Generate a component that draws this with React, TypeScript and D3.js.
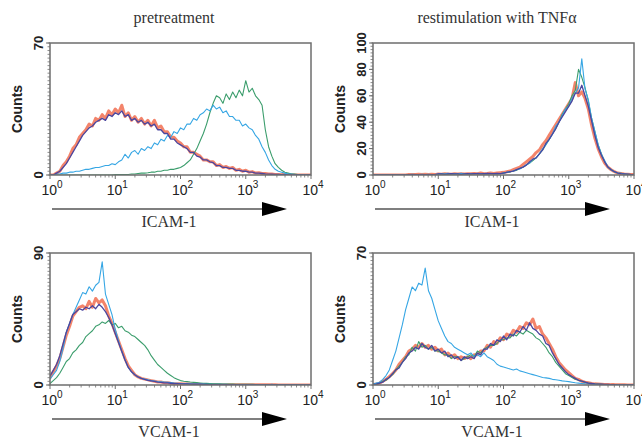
import React, { useRef, useEffect } from "react";
import * as d3 from "d3";

// 81 channels, log10 positions 0 .. 4 in steps of 0.05
const decades = d3.range(81).map(i => i * 0.05);

// ICAM-1, pretreatment
const icamPreRed = [
  0, 0, 1, 2, 5, 7, 10, 14, 16, 20,
  22, 24, 27, 26, 30, 29, 32, 30, 34, 32,
  35, 33, 37, 31, 33, 29, 31, 28, 30, 27,
  29, 26, 29, 25, 26, 23, 23, 20, 20, 18,
  17, 15, 15, 12, 12, 11, 10, 8, 8, 7,
  7, 5, 5.5, 4, 4.5, 3.5, 4, 2.5, 3, 2,
  2.5, 1.5, 1.8, 1, 1.2, 0.8, 0.8, 0.5, 0.5, 0.3,
  0.3, 0.2, 0.2, 0.1, 0.1, 0, 0, 0, 0, 0,
  0];
const icamPrePurple = [
  0, 0, 1, 2, 4, 6, 9, 12, 15, 18,
  21, 23, 25, 26, 28, 29, 30, 29, 32, 31,
  33, 32, 34, 31, 32, 29, 30, 28, 29, 27,
  28, 26, 27, 24, 24, 22, 22, 19, 19, 17,
  16, 15, 14, 12, 12, 10, 9.5, 8, 8, 7,
  6.5, 5, 5, 4, 4, 3.5, 3.5, 2.5, 2.5, 2,
  2, 1.5, 1.5, 1, 1, 0.8, 0.6, 0.5, 0.4, 0.3,
  0.3, 0.2, 0.2, 0.1, 0.1, 0, 0, 0, 0, 0,
  0];
const icamPreCyan = [
  0, 0, 0.5, 0.5, 1, 1, 1.5, 1.5, 2, 2,
  2.5, 3, 3, 3.5, 4, 4, 4.5, 5, 5, 6,
  5.5, 7, 8, 11, 9, 12, 13, 11, 14, 13,
  15, 14, 17, 16, 19, 18, 21, 20, 23, 22,
  25, 24, 27, 27, 30, 29, 32, 33, 35, 34,
  37, 35, 36, 33, 34, 31, 31, 29, 29, 26,
  27, 25, 24, 21, 19, 15, 12, 8, 5, 3,
  2, 1.5, 1, 0.5, 0.5, 0.3, 0, 0, 0, 0,
  0];
const icamPreGreen = [
  0, 0, 0, 0, 0, 0, 0, 0, 0, 0,
  0, 0, 0, 0, 0, 0, 0, 0, 0, 0,
  0.3, 0.3, 0.3, 0.3, 0.3, 0.5, 0.5, 0.8, 1, 1,
  1.2, 1.5, 1.5, 2, 2, 2.5, 2.5, 3, 3, 3.5,
  4, 5, 6.5, 8, 11, 14, 18, 22, 27, 33,
  38, 42, 41, 38, 43, 40, 44, 41, 45, 42,
  50, 44, 46, 42, 40, 37, 24, 15, 10, 6,
  4, 2.5, 1.5, 1, 0.5, 0.5, 0.3, 0.2, 0, 0,
  0];

// ICAM-1, restimulation with TNF-alpha
const icamTnfRed = [
  0, 0, 0, 0, 0, 0, 0, 0, 0, 0,
  0, 0.3, 0.3, 0.3, 0.5, 0.3, 0.5, 0.3, 0.5, 0.3,
  0.8, 0.5, 1, 0.8, 0.5, 1, 0.8, 1, 0.8, 1,
  1, 1.2, 1, 1.5, 1, 1.2, 1.5, 1.2, 1.5, 1.8,
  2, 2.5, 3, 4, 5, 6, 8, 10, 12, 14,
  17, 19, 23, 26, 30, 34, 38, 42, 46, 50,
  54, 58, 70, 60, 63, 58, 50, 38, 28, 20,
  14, 9, 6, 4, 2.5, 1.5, 1.2, 0.8, 0.6, 0.4,
  0.3];
const icamTnfPurple = [
  0, 0, 0, 0, 0, 0, 0, 0, 0, 0,
  0, 0.3, 0.3, 0.3, 0.3, 0.3, 0.3, 0.3, 0.3, 0.3,
  0.8, 0.8, 0.5, 0.8, 1, 0.8, 0.8, 0.5, 0.8, 1,
  0.8, 1, 1, 0.8, 1, 1.2, 1, 1, 1.2, 1,
  1.5, 2, 2.5, 3, 4, 5, 6, 7.5, 10, 12,
  13, 16, 19, 24, 27, 31, 35, 40, 44, 48,
  52, 56, 62, 62, 68, 60, 52, 41, 30, 21,
  15, 10, 6, 4, 2.5, 1.5, 1, 0.8, 0.6, 0.4,
  0.3];
const icamTnfCyan = [
  0, 0, 0, 0, 0, 0, 0, 0, 0, 0,
  0, 0.3, 0.5, 0.3, 0.3, 0.5, 0.3, 0.5, 0.3, 0.3,
  0.8, 1, 0.8, 1.2, 0.8, 1, 0.8, 1.2, 0.8, 1,
  1, 0.8, 1.2, 1, 1, 0.8, 1.2, 1, 0.8, 1,
  1.5, 2, 2.5, 3, 4, 4.5, 6, 8, 9, 12,
  13, 16, 20, 23, 27, 31, 37, 40, 45, 50,
  52, 58, 62, 66, 88, 65, 57, 43, 33, 23,
  16, 11, 6, 4, 2.5, 1.5, 1.2, 0.8, 0.6, 0.4,
  0.3];
const icamTnfGreen = [
  0, 0, 0, 0, 0, 0, 0, 0, 0, 0,
  0, 0.3, 0.3, 0.3, 0.3, 0.3, 0.3, 0.3, 0.3, 0.3,
  0.5, 0.8, 0.8, 0.5, 0.8, 0.8, 0.8, 0.5, 0.8, 0.8,
  0.8, 1, 1, 1, 0.8, 1, 1, 1, 1, 1,
  1.5, 2, 2.3, 3, 3.5, 5, 6, 7.5, 9, 11,
  13, 16, 19, 23, 27, 31, 35, 40, 46, 50,
  54, 60, 64, 80, 74, 66, 56, 43, 33, 23,
  16, 10, 6, 4, 2.5, 1.5, 1.2, 0.8, 0.6, 0.4,
  0.3];

// VCAM-1, pretreatment
const vcamPreRed = [
  5, 9, 13, 18, 26, 34, 40, 47, 50, 53,
  54, 52, 57, 53, 59, 56, 58, 54, 47, 42,
  36, 30, 24, 18, 13, 10, 7, 5.5, 4.5, 4,
  3.5, 3, 2.5, 2, 2, 1.6, 1.5, 1.2, 1, 0.9,
  0.8, 0.7, 0.6, 0.6, 0.5, 0.5, 0.4, 0.4, 0.4, 0.3,
  0.3, 0.3, 0.2, 0.2, 0.2, 0.2, 0.2, 0.2, 0.1, 0.1,
  0.1, 0.1, 0.1, 0.1, 0.1, 0.1, 0.1, 0.1, 0.1, 0.1,
  0, 0, 0, 0, 0, 0, 0, 0, 0, 0,
  0];
const vcamPrePurple = [
  6, 10, 14, 20, 28, 36, 42, 48, 50, 52,
  51, 53, 52, 54, 52, 55, 53, 50, 46, 41,
  35, 29, 23, 17, 12, 9, 7, 5.5, 4.5, 3.8,
  3.2, 2.8, 2.4, 2, 1.8, 1.5, 1.4, 1.2, 1, 0.9,
  0.8, 0.7, 0.7, 0.6, 0.5, 0.5, 0.5, 0.4, 0.4, 0.3,
  0.3, 0.3, 0.3, 0.2, 0.2, 0.2, 0.2, 0.2, 0.2, 0.1,
  0.1, 0.1, 0.1, 0.1, 0.1, 0.1, 0.1, 0.1, 0.1, 0.1,
  0.1, 0.1, 0, 0, 0, 0, 0, 0, 0, 0,
  0];
const vcamPreCyan = [
  4, 7, 10, 16, 25, 36, 42, 48, 53, 58,
  63, 62, 67, 64, 68, 70, 84, 62, 55, 48,
  38, 30, 23, 17, 12, 9, 7, 5.5, 4.5, 4,
  3.5, 3, 2.7, 2.4, 2.2, 2, 1.8, 1.6, 1.4, 1.2,
  1, 0.9, 0.8, 0.8, 0.7, 0.7, 0.6, 0.6, 0.5, 0.5,
  0.5, 0.4, 0.4, 0.4, 0.4, 0.3, 0.3, 0.3, 0.3, 0.3,
  0.3, 0.3, 0.2, 0.2, 0.2, 0.2, 0.2, 0.2, 0.4, 0.2,
  0.2, 0.2, 0.1, 0.1, 0.1, 0.1, 0, 0, 0, 0,
  0];
const vcamPreGreen = [
  1, 3, 5, 8, 12, 16, 18, 22, 24, 27,
  29, 33, 35, 37, 40, 41, 43, 42, 44, 41,
  42, 39, 40, 37, 36, 34, 33, 31, 29, 27,
  24, 20, 17, 14, 12, 10, 8, 6.5, 5, 4,
  3, 2.6, 2.3, 2, 1.8, 1.6, 1.4, 1.2, 1.1, 1,
  0.9, 0.8, 0.8, 0.7, 0.7, 0.6, 0.6, 0.5, 0.5, 0.5,
  0.4, 0.4, 0.4, 0.3, 0.3, 0.3, 0.3, 0.2, 0.2, 0.2,
  0.2, 0.2, 0.1, 0.1, 0.1, 0.1, 0.1, 0, 0, 0,
  0];

// VCAM-1, restimulation with TNF-alpha
const vcamTnfRed = [
  0.3, 0.5, 1, 2, 3, 4.5, 6, 8, 11, 13,
  15, 18, 19, 21, 20, 22, 20, 21, 19, 20,
  18, 19, 16, 17, 15, 16, 14, 15, 14, 15,
  14, 16, 16, 18, 18, 21, 20, 23, 22, 25,
  24, 27, 26, 29, 28, 31, 30, 33, 32, 35,
  30, 31, 27, 25, 22, 19, 15, 12, 10, 8,
  6.5, 5, 3.5, 3, 2, 1.5, 1.2, 0.8, 0.6, 0.5,
  0.4, 0.3, 0.3, 0.2, 0.2, 0.1, 0.1, 0.1, 0, 0,
  0];
const vcamTnfPurple = [
  0.3, 0.5, 1, 1.5, 3, 4, 6, 8, 9, 12,
  14, 17, 18, 20, 19, 22, 20, 19, 21, 18,
  19, 17, 18, 15, 16, 14, 15, 13, 15, 14,
  15, 14, 17, 16, 19, 19, 22, 21, 24, 23,
  26, 24, 27, 26, 29, 28, 31, 29, 33, 30,
  29, 27, 26, 22, 21, 17, 14, 11, 9, 7,
  5.5, 4.5, 3.5, 2.5, 2, 1.5, 1, 0.8, 0.6, 0.5,
  0.4, 0.3, 0.3, 0.2, 0.2, 0.1, 0.1, 0.1, 0, 0,
  0];
const vcamTnfCyan = [
  0.5, 1, 1.5, 3, 5, 8, 13, 18, 25, 32,
  40, 46, 52, 50, 54, 53, 62, 50, 46, 40,
  34, 30, 26, 23, 22, 20, 19, 18, 17, 16,
  17, 15, 16, 15, 17, 15, 14, 13, 11, 10,
  9.5, 9, 8.5, 8, 8.5, 7.5, 7, 6.5, 6, 5.5,
  5, 4.5, 4, 3.8, 3.5, 3, 2.8, 2.5, 2.2, 2,
  1.8, 1.5, 1.2, 1, 0.8, 0.6, 0.5, 0.4, 0.3, 0.3,
  0.2, 0.2, 0.2, 0.1, 0.1, 0.1, 0.1, 0, 0, 0,
  0];
const vcamTnfGreen = [
  0.3, 0.5, 1, 2, 2.5, 4, 5.5, 8, 10, 12,
  15, 16, 20, 18, 23, 20, 21, 19, 20, 18,
  18, 17, 16, 16, 14, 15, 15, 13, 14, 15,
  16, 15, 18, 17, 19, 20, 21, 21, 22, 24,
  24, 25, 25, 27, 26, 28, 27, 29, 28, 27,
  25, 24, 22, 20, 17, 15, 12, 10, 8, 6,
  5, 4, 3, 2.5, 2, 1.5, 1, 0.8, 0.6, 0.5,
  0.4, 0.3, 0.3, 0.2, 0.2, 0.1, 0.1, 0.1, 0, 0,
  0];

const exponents = [0, 1, 2, 3, 4];

const colors = {
  red: "#ef5b3a",
  green: "#3b9d6c",
  cyan: "#36a6e4",
  purple: "#4a46a0",
};

const panels = [
  {
    title: "pretreatment", marker: "ICAM-1", yMax: 70, yTicks: [0, 70], minorStep: 2,
    left: 50, top: 43,
    series: { red: icamPreRed, green: icamPreGreen, cyan: icamPreCyan, purple: icamPrePurple },
  },
  {
    title: "restimulation with TNF\u03b1", marker: "ICAM-1", yMax: 100, yTicks: [0, 20, 40, 60, 80, 100], minorStep: 2.5,
    left: 373, top: 43,
    series: { red: icamTnfRed, green: icamTnfGreen, cyan: icamTnfCyan, purple: icamTnfPurple },
  },
  {
    title: null, marker: "VCAM-1", yMax: 90, yTicks: [0, 90], minorStep: 2.5,
    left: 50, top: 253,
    series: { red: vcamPreRed, green: vcamPreGreen, cyan: vcamPreCyan, purple: vcamPrePurple },
  },
  {
    title: null, marker: "VCAM-1", yMax: 70, yTicks: [0, 70], minorStep: 2,
    left: 373, top: 253,
    series: { red: vcamTnfRed, green: vcamTnfGreen, cyan: vcamTnfCyan, purple: vcamTnfPurple },
  },
];

const App = () => {
  const ref = useRef<SVGSVGElement>(null);

  useEffect(() => {
    const width = 642;
    const height = 440;
    const plotW = 261;
    const plotH = 132;
    const sans = "'Liberation Sans', Arial, Helvetica, sans-serif";
    const serif = "'Liberation Serif', 'Times New Roman', serif";
    const frameColor = "#6e6e6e";

    const svg = d3.select(ref.current)
      .attr("width", width)
      .attr("height", height);
    svg.selectAll("*").remove();

    svg.append("rect").attr("width", width).attr("height", height).attr("fill", "#ffffff");

    const defs = svg.append("defs");
    defs.append("filter").attr("id", "soft")
      .attr("x", "-5%").attr("y", "-5%").attr("width", "110%").attr("height", "110%")
      .append("feGaussianBlur").attr("stdDeviation", 0.7);

    panels.forEach((p, pi) => {
      const x = d3.scaleLog().domain([1, 1e4]).range([p.left, p.left + plotW]);
      const y = d3.scaleLinear().domain([0, p.yMax]).range([p.top + plotH, p.top]);
      const bottom = p.top + plotH;
      const g = svg.append("g");

      defs.append("clipPath").attr("id", `clip${pi}`)
        .append("rect").attr("x", p.left).attr("y", p.top - 2).attr("width", plotW).attr("height", plotH + 2);

      // title
      if (p.title) {
        g.append("text")
          .attr("x", p.left + 124).attr("y", 23)
          .attr("text-anchor", "middle")
          .style("font-family", serif).style("font-size", "16px").style("fill", "#333")
          .text(p.title);
      }

      // histograms
      const line = d3.line<[number, number]>()
        .x(d => x(d[0]))
        .y(d => y(d[1]));
      const toPoints = (vals: number[]) => vals.map((v, i) => [Math.pow(10, decades[i]), v] as [number, number]);

      const lines = g.append("g").attr("clip-path", `url(#clip${pi})`);
      lines.append("path")
        .datum(toPoints(p.series.red))
        .attr("fill", "none").attr("stroke", colors.red)
        .attr("stroke-width", 3).attr("stroke-opacity", 0.75)
        .attr("stroke-linejoin", "round")
        .attr("filter", "url(#soft)")
        .attr("d", line);
      (["green", "cyan", "purple"] as const).forEach(k => {
        lines.append("path")
          .datum(toPoints(p.series[k]))
          .attr("fill", "none").attr("stroke", colors[k])
          .attr("stroke-width", k === "purple" ? 1.3 : 1.1)
          .attr("stroke-linejoin", "round")
          .attr("d", line);
      });

      // frame
      g.append("rect")
        .attr("x", p.left).attr("y", p.top)
        .attr("width", plotW).attr("height", plotH)
        .attr("fill", "none").attr("stroke", frameColor).attr("stroke-width", 1.5);

      // y minor + major ticks
      const minor = d3.range(0, p.yMax + 0.001, p.minorStep);
      g.selectAll(null).data(minor).enter().append("line")
        .attr("x1", p.left - 2.5).attr("x2", p.left)
        .attr("y1", d => y(d)).attr("y2", d => y(d))
        .attr("stroke", frameColor).attr("stroke-width", 0.8);
      g.selectAll(null).data(p.yTicks).enter().append("line")
        .attr("x1", p.left - 4).attr("x2", p.left)
        .attr("y1", d => y(d)).attr("y2", d => y(d))
        .attr("stroke", frameColor).attr("stroke-width", 1);
      g.selectAll(null).data(p.yTicks).enter().append("text")
        .attr("transform", d => `translate(${p.left - 7},${y(d)}) rotate(-90)`)
        .attr("text-anchor", "middle")
        .style("font-family", sans).style("font-size", "13px").style("font-weight", "bold").style("fill", "#222")
        .text(d => d);

      g.append("text")
        .attr("transform", `translate(${p.left - 28},${p.top + plotH / 2}) rotate(-90)`)
        .attr("text-anchor", "middle")
        .style("font-family", sans).style("font-size", "14px").style("font-weight", "bold").style("fill", "#222")
        .text("Counts");

      // x log ticks
      const logMinor: number[] = [];
      for (let e = 0; e < 4; e++) for (let m = 2; m <= 9; m++) logMinor.push(m * Math.pow(10, e));
      g.selectAll(null).data(logMinor).enter().append("line")
        .attr("x1", d => x(d)).attr("x2", d => x(d))
        .attr("y1", bottom).attr("y2", bottom + 2.5)
        .attr("stroke", frameColor).attr("stroke-width", 0.8);
      g.selectAll(null).data(exponents).enter().append("line")
        .attr("x1", d => x(Math.pow(10, d))).attr("x2", d => x(Math.pow(10, d)))
        .attr("y1", bottom).attr("y2", bottom + 4)
        .attr("stroke", frameColor).attr("stroke-width", 1);
      const labels = g.selectAll(null).data(exponents).enter().append("text")
        .attr("x", d => x(Math.pow(10, d)) + 2).attr("y", bottom + 20)
        .attr("text-anchor", "middle")
        .style("font-family", sans).style("font-size", "14px").style("fill", "#222");
      labels.append("tspan").text("10");
      labels.append("tspan").attr("dy", -7).style("font-size", "10px").text(d => d);

      // marker arrow
      const ay = bottom + 34;
      g.append("line")
        .attr("x1", p.left + 2).attr("x2", p.left + 214)
        .attr("y1", ay).attr("y2", ay)
        .attr("stroke", "#555").attr("stroke-width", 1.3);
      g.append("path")
        .attr("d", `M${p.left + 212},${ay - 7}L${p.left + 237},${ay}L${p.left + 212},${ay + 7}Z`)
        .attr("fill", "#000");

      g.append("text")
        .attr("x", p.left + 119).attr("y", bottom + 52)
        .attr("text-anchor", "middle")
        .style("font-family", serif).style("font-size", "16px").style("fill", "#333")
        .text(p.marker);
    });
  }, []);

  return (
    <div style={{ position: "absolute", left: 0, top: 0 }}>
      <svg ref={ref}></svg>
    </div>
  );
};

export default App;
